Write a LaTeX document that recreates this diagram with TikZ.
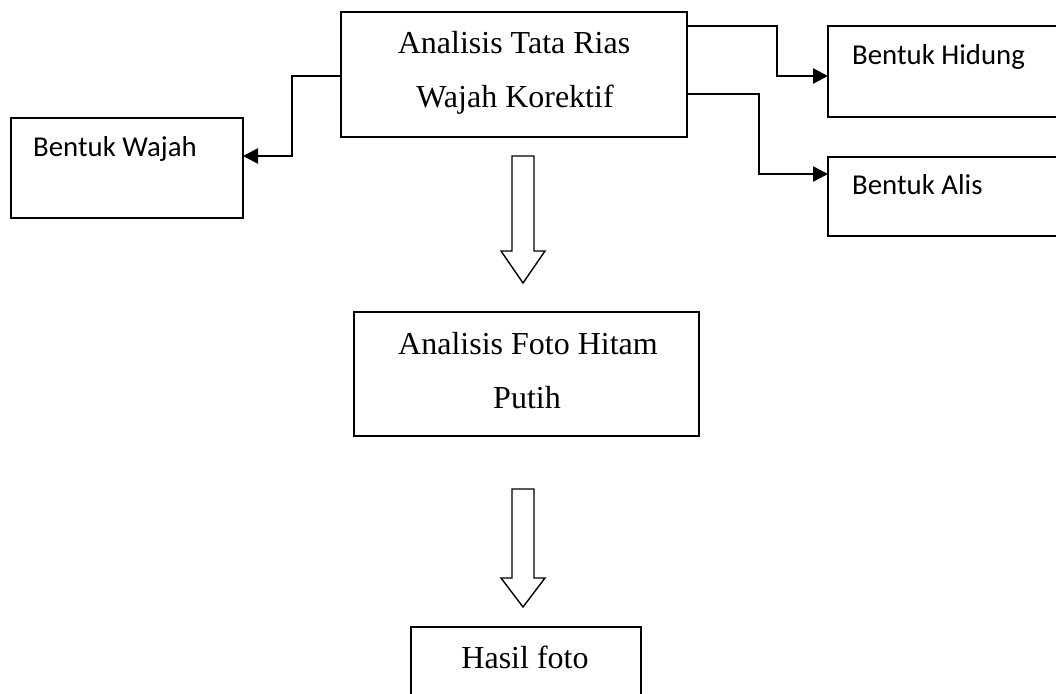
\documentclass[tikz,border=0pt]{standalone}
\usepackage{fontspec}
\setmainfont{Liberation Serif}
\newfontfamily\calfont{Carlito}
\usetikzlibrary{arrows.meta}
\begin{document}
\begin{tikzpicture}[x=1pt,y=-1pt,
  box/.style={draw=black,line width=1.6pt,minimum width=#1,inner sep=0pt,outer sep=0pt},
  tnr/.style={inner sep=0pt,anchor=base,font=\fontsize{32}{38}\selectfont},
  cal/.style={inner sep=0pt,anchor=base west,font=\calfont\fontsize{28.8}{34}\selectfont},
  conn/.style={line width=2.6pt,-{Triangle[length=15pt,width=15pt]}},
  hollow/.style={draw=black,line width=1.4pt,line join=miter,fill=white}]
\useasboundingbox (0,0) rectangle (1056,693);
\clip (0,0) rectangle (1056,693);
\fill[white] (0,0) rectangle (1056,693);
% boxes
\node[box=346pt,minimum height=125pt] (top) at (514,74.5) {};
\node[box=232pt,minimum height=100pt] (wajah) at (127,168) {};
\node[box=272pt,minimum height=91pt] (hidung) at (964,71.5) {};
\node[box=272pt,minimum height=79pt] (alis) at (964,196.5) {};
\node[box=345pt,minimum height=124pt] (foto) at (526.5,374) {};
\node[box=230pt,minimum height=93pt] (hasil) at (526,673.5) {};
% texts
\node[tnr] (t1) at (514,53) {Analisis Tata Rias};
\node[tnr] (t2) at (515,107) {Wajah Korektif};
\node[tnr] (f1) at (528,354) {Analisis Foto Hitam};
\node[tnr] (f2) at (527,408) {Putih};
\node[tnr] (h1) at (525,668) {Hasil foto};
\node[cal] (w1) at (33,156) {Bentuk Wajah};
\node[cal] (n1) at (852,64) {Bentuk Hidung};
\node[cal] (a1) at (852,194) {Bentuk Alis};
% connectors
\draw[conn] ([yshift=-1.5pt]top.west) -- ++(-49,0) |- ([yshift=12pt]wajah.east);
\draw[conn] ([yshift=48.5pt]top.east) -- ++(90,0) |- ([yshift=-4.5pt]hidung.west);
\draw[conn] ([yshift=-19.5pt]top.east) -- ++(72,0) |- ([yshift=22.5pt]alis.west);
% hollow arrows
\coordinate (ha) at (523,156);
\coordinate (hb) at (523,489);
\draw[hollow] (ha) ++(-11,0) -- ++(22,0) -- ++(0,95) -- ++(11,0) -- (523,283) -- (501,251) -- (512,251) -- cycle;
\draw[hollow] (hb) ++(-11,0) -- ++(22,0) -- ++(0,89) -- ++(11,0) -- (523,607) -- (501,578) -- (512,578) -- cycle;
\end{tikzpicture}
\end{document}
